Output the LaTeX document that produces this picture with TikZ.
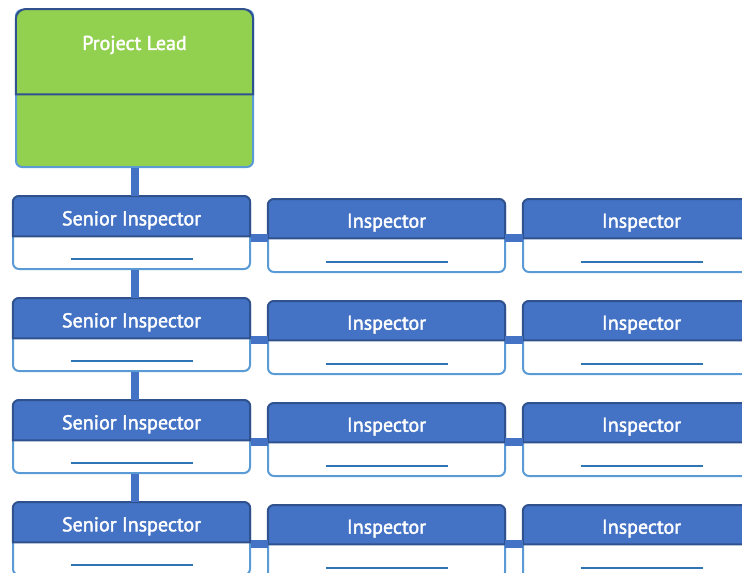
\documentclass[tikz,border=0pt]{standalone}
\usepackage{fontspec}
\setmainfont{PT Sans}
\newfontfamily\boxfont{PT Sans}[FakeBold=2]
\usepackage{tikz}

\definecolor{leadgreen}{HTML}{92D050}
\definecolor{headblue}{HTML}{4472C4}
\definecolor{darkrim}{HTML}{2F528F}
\definecolor{lightrim}{HTML}{5B9BD5}
\definecolor{lineblue}{HTML}{2E75B6}

\tikzset{
  box/.style={rectangle, rounded corners=6pt, draw=lightrim, fill=white,
    line width=2pt, minimum width=237pt, minimum height=72pt, inner sep=0pt},
  headbox/.style={rectangle, minimum width=237pt, inner sep=0pt},
  headline/.style={draw=darkrim, fill=headblue, line width=2pt},
  headtext/.style={text=white, font=\boxfont\fontsize{20}{22}\selectfont},
  uline/.style={inner sep=0pt, text=lineblue},
  link/.style={draw=headblue, line width=8pt}
}

% one chart box: name, x, y, header height, title
\newcommand\orgbox[5]{
  \node[box, anchor=north west] (#1) at (#2,#3) {};
  \node[headbox, minimum height=#4pt, anchor=north] (#1h) at (#1.north) {};
  \filldraw[headline] (#1h.south west) [rounded corners=6pt] -- (#1h.north west)
    -- (#1h.north east) [sharp corners] -- (#1h.south east) -- cycle;
  \node[headtext, yshift=-4pt] (#1t) at (#1h) {#5};
  \node[uline] (#1u) at ([yshift=11pt]#1.south) {\rule{122pt}{1.6pt}};
}

\begin{document}
\begin{tikzpicture}[x=1pt, y=-1pt]
  \useasboundingbox (0,0) rectangle (742,573);
  \clip (0,0) rectangle (742,573);

  % project lead
  \node[box, fill=leadgreen, minimum height=157pt, anchor=north west] (lead) at (15,9) {};
  \node[headbox, minimum height=85pt, anchor=north] (leadh) at (lead.north) {};
  \filldraw[headline, fill=leadgreen] (leadh.south west) [rounded corners=10pt] -- (leadh.north west)
    -- (leadh.north east) [sharp corners] -- (leadh.south east) -- cycle;
  \node[headtext, anchor=center] (leadt) at ([yshift=-36pt]lead.north) {Project Lead};

  % rows of inspectors
  \foreach \k in {0,1,2,3} {
    \pgfmathsetmacro\ys{196+102*\k}
    \pgfmathsetmacro\yi{199+102*\k}
    \orgbox{sen\k}{12}{\ys}{40}{Senior Inspector}
    \orgbox{insa\k}{267}{\yi}{39}{Inspector}
    \orgbox{insb\k}{522}{\yi}{39}{Inspector}
    \draw[link] (insa\k h.south west -| sen\k.east) -- (insa\k h.south west);
    \draw[link] (insa\k h.south east) -- (insb\k h.south west);
  }

  % spine down from the lead
  \draw[link] (lead.south) -- (sen0.north -| lead.south);
  \draw[link] (sen0.south -| lead.south) -- (sen1.north -| lead.south);
  \draw[link] (sen1.south -| lead.south) -- (sen2.north -| lead.south);
  \draw[link] (sen2.south -| lead.south) -- (sen3.north -| lead.south);
\end{tikzpicture}
\end{document}
